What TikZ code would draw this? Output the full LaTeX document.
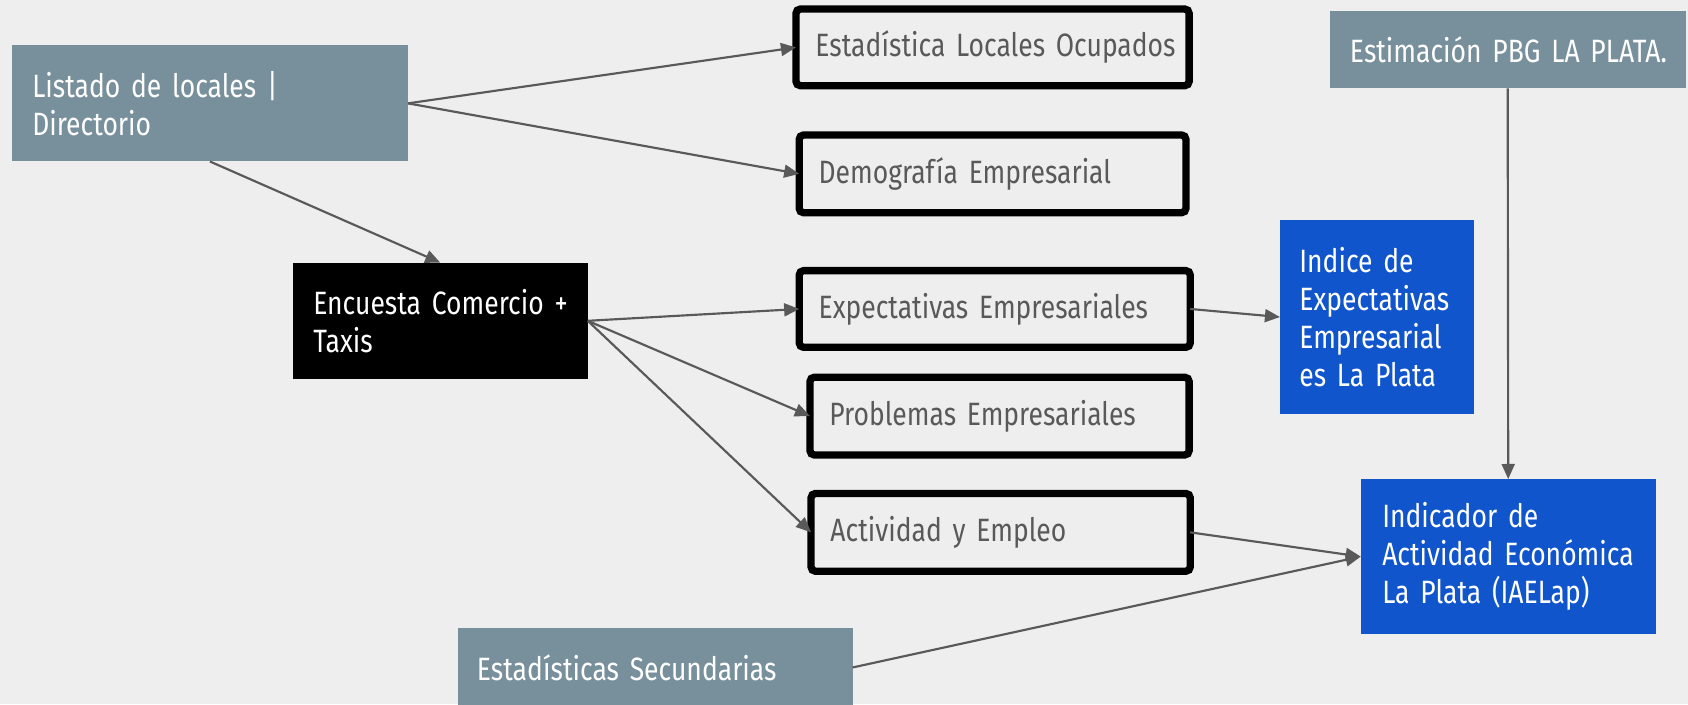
\documentclass[tikz,border=0pt]{standalone}
\usepackage{fontspec}
\setmainfont[FakeStretch=0.82]{Fira Sans}
\usetikzlibrary{arrows.meta}
\definecolor{bgc}{HTML}{EEEEEE}
\definecolor{slate}{HTML}{78909C}
\definecolor{royal}{HTML}{1155CC}
\definecolor{darkgr}{HTML}{595959}
\newcommand{\boxfont}{\fontsize{15}{17.7}\selectfont\spaceskip=2.4pt\relax}
\tikzset{
  base/.style={rectangle, inner ysep=0pt, align=left, font=\boxfont, outer sep=0pt},
  graybox/.style={base, fill=slate, text=white, draw=none},
  bluebox/.style={base, fill=royal, text=white, draw=none},
  blackbox/.style={base, fill=black, text=white, draw=none},
  outbox/.style={base, draw=black, line width=3.4pt, rounded corners=2pt, fill=bgc, text=darkgr, inner xsep=9pt},
  conn/.style={draw=darkgr, line width=1pt, -{Triangle[length=7pt,width=6pt]}}
}
\begin{document}
\begin{tikzpicture}[x=0.5pt,y=-0.5pt]
\fill[bgc] (0,0) rectangle (1568,654);
\useasboundingbox (0,0) rectangle (1568,654);
\begin{scope}
\clip (0,0) rectangle (1568,654);
% source boxes
\node[graybox, minimum width=184pt, minimum height=54pt, inner xsep=9.5pt, text width=165pt] (lst) at (195,96) {\mbox{Listado de locales |}\\\mbox{Directorio}};
\node[blackbox, minimum width=137pt, minimum height=54pt, inner xsep=9.5pt, text width=118pt] (enc) at (409,298) {\mbox{Encuesta Comercio +}\\\mbox{Taxis}};
\node[graybox, minimum width=165.5pt, minimum height=36pt, inner xsep=9.5pt, text width=146.5pt] (pbg) at (1400.5,46) {\mbox{Estimación PBG LA PLATA.}};
\node[graybox, minimum width=183.5pt, minimum height=37pt, inner xsep=9pt, text width=165.5pt] (sec) at (608.5,620) {\mbox{Estadísticas Secundarias}};
% outlined boxes
\node[outbox, minimum width=182.6pt, minimum height=35.6pt, text width=164.6pt] (est) at (922,44) {\mbox{Estadística Locales Ocupados}};
\node[outbox, minimum width=179.6pt, minimum height=36.1pt, text width=161.6pt] (dem) at (922,161.5) {\mbox{Demografía Empresarial}};
\node[outbox, minimum width=181.6pt, minimum height=35.6pt, text width=163.6pt] (exp) at (924,287) {\mbox{Expectativas Empresariales}};
\node[outbox, minimum width=176.1pt, minimum height=36.1pt, text width=158.1pt] (prb) at (928.5,386.5) {\mbox{Problemas Empresariales}};
\node[outbox, minimum width=176.1pt, minimum height=36.1pt, text width=158.1pt] (act) at (929.5,494.5) {\mbox{Actividad y Empleo}};
% result boxes
\node[bluebox, minimum width=90pt, minimum height=90.5pt, inner xsep=9pt, text width=72pt] (idx) at (1279,294.5) {\mbox{Indice de}\\\mbox{Expectativas}\\\mbox{Empresarial}\\\mbox{es La Plata}};
\node[bluebox, minimum width=137pt, minimum height=72pt, inner xsep=10pt, text width=117pt] (iae) at (1401,517) {\mbox{Indicador de}\\\mbox{Actividad Económica}\\\mbox{La Plata (IAELap)}};
% connectors
\draw[conn] (lst.east) -- (est.west);
\draw[conn] (lst.east) -- (dem.west);
\draw[conn] (lst.south) -- (enc.north);
\draw[conn] (enc.east) -- (exp.west);
\draw[conn] (enc.east) -- (prb.west);
\draw[conn] (enc.east) -- (act.west);
\draw[conn] (exp.east) -- (idx.west);
\draw[conn] (pbg.south) -- (iae.north);
\draw[conn] (act.east) -- (iae.west);
\draw[conn] (sec.east) -- (iae.west);
\end{scope}
\end{tikzpicture}
\end{document}
